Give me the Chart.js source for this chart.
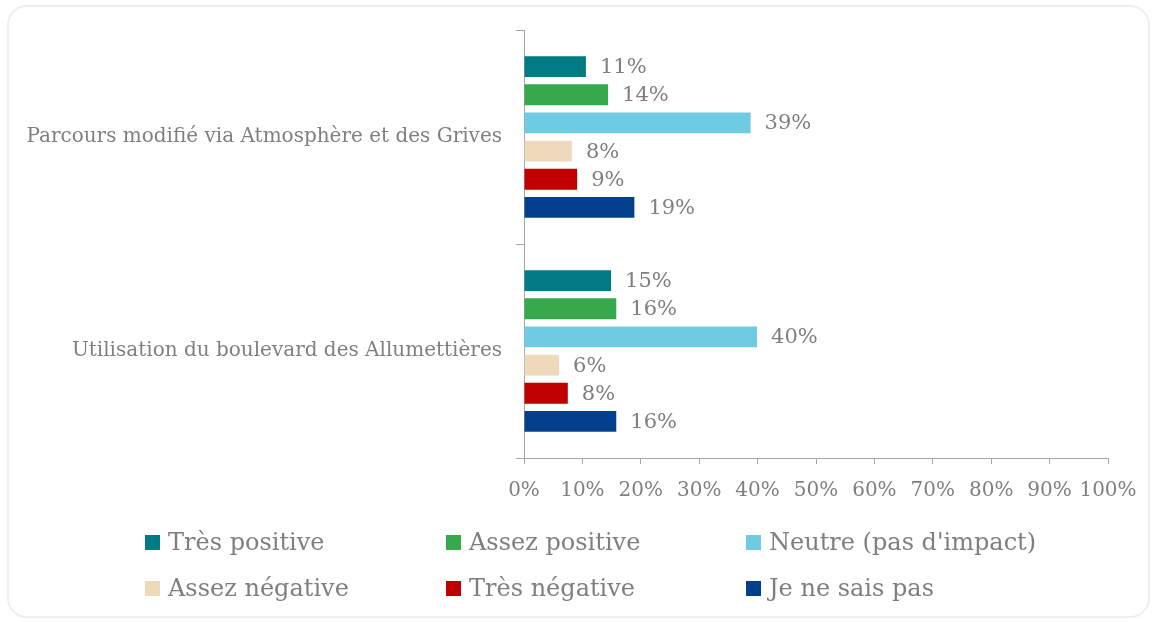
<!DOCTYPE html>
<html>
<head>
<meta charset="utf-8">
<script src="https://cdn.jsdelivr.net/npm/chart.js@4/dist/chart.umd.min.js"></script>
<style>
  html, body { margin: 0; padding: 0; background: #fff; }
  #wrap { position: relative; width: 1153px; height: 622px; overflow: hidden; }
  #frame {
    position: absolute; left: 7px; top: 5px; width: 1143px; height: 613px;
    box-sizing: border-box; border: 2px solid #efefef; border-radius: 20px;
  }
  #chartBox { position: absolute; left: 0; top: 0; width: 1153px; height: 622px; }
  #legend {
    position: absolute; left: 145px; top: 519px;
    display: grid; grid-template-columns: 301px 300px 300px; grid-auto-rows: 46px;
    font-family: 'DejaVu Serif', serif; font-size: 24px; color: #7f7f7f;
  }
  .item { display: flex; align-items: center; white-space: nowrap; }
  .sw { width: 15px; height: 15px; margin-right: 8px; flex: none; }
</style>
</head>
<body>
<div id="wrap">
  <div id="frame"></div>
  <div id="chartBox"><canvas id="chart"></canvas></div>
  <div id="legend"></div>
</div>
<script>
// categories and series
const categories = ['Parcours modifié via Atmosphère et des Grives', 'Utilisation du boulevard des Allumettières'];
const seriesNames = ['Très positive', 'Assez positive', "Neutre (pas d'impact)", 'Assez négative', 'Très négative', 'Je ne sais pas'];

// values in % (one array per series, same order as categories)
const tresPositive = [10.6, 14.9];
const assezPositive = [14.4, 15.8];
const neutre = [38.8, 39.9];
const assezNegative = [8.2, 6.0];
const tresNegative = [9.1, 7.5];
const neSaisPas = [18.9, 15.8];

const xTicks = [0, 10, 20, 30, 40, 50, 60, 70, 80, 90, 100];

const colors = ['#007b83', '#35a94b', '#6ecbe2', '#eedabb', '#c00000', '#023f8c'];
const textColor = '#7f7f7f';
const axisColor = '#a6a6a6';

Chart.defaults.font.family = "'DejaVu Serif', serif";
Chart.defaults.color = textColor;

const seriesValues = [tresPositive, assezPositive, neutre, assezNegative, tresNegative, neSaisPas];

// value labels at the end of each bar
const barLabels = {
  id: 'barLabels',
  afterDatasetsDraw(chart) {
    const ctx = chart.ctx;
    ctx.save();
    ctx.font = "21px 'DejaVu Serif'";
    ctx.fillStyle = textColor;
    ctx.textAlign = 'left';
    ctx.textBaseline = 'middle';
    chart.data.datasets.forEach((ds, i) => {
      chart.getDatasetMeta(i).data.forEach((bar, j) => {
        ctx.fillText(Math.round(ds.data[j]) + '%', bar.x + 14, bar.y + 1);
      });
    });
    ctx.restore();
  }
};

new Chart(document.getElementById('chart'), {
  type: 'bar',
  data: {
    labels: categories,
    datasets: seriesNames.map((name, i) => ({
      label: name,
      data: seriesValues[i],
      backgroundColor: colors[i],
      borderWidth: 0,
      categoryPercentage: 0.79,
      barPercentage: 0.74
    }))
  },
  options: {
    indexAxis: 'y',
    responsive: true,
    maintainAspectRatio: false,
    animation: false,
    layout: { padding: { top: 30, right: 45, bottom: 104, left: 0 } },
    plugins: {
      legend: { display: false },
      tooltip: { enabled: false }
    },
    scales: {
      x: {
        min: 0,
        max: 100,
        afterBuildTicks(scale) { scale.ticks = xTicks.map(v => ({ value: v })); },
        afterFit(scale) { scale.height = 60; },
        ticks: {
          callback: v => v + '%',
          font: { size: 20 },
          color: textColor,
          padding: 15,
          maxRotation: 0,
          autoSkip: false
        },
        grid: { drawOnChartArea: false, tickLength: 6, color: axisColor },
        border: { color: axisColor }
      },
      y: {
        offset: true,
        afterFit(scale) { scale.width = 524; },
        ticks: { font: { size: 20 }, color: textColor, padding: 14 },
        grid: { offset: true, drawOnChartArea: false, tickLength: 8, color: axisColor },
        border: { color: axisColor }
      }
    }
  },
  plugins: [barLabels]
});

// legend, 3 columns x 2 rows
const legend = document.getElementById('legend');
seriesNames.forEach((name, i) => {
  const item = document.createElement('div');
  item.className = 'item';
  item.innerHTML = '<span class="sw" style="background:' + colors[i] + '"></span><span>' + name + '</span>';
  legend.appendChild(item);
});
</script>
</body>
</html>
